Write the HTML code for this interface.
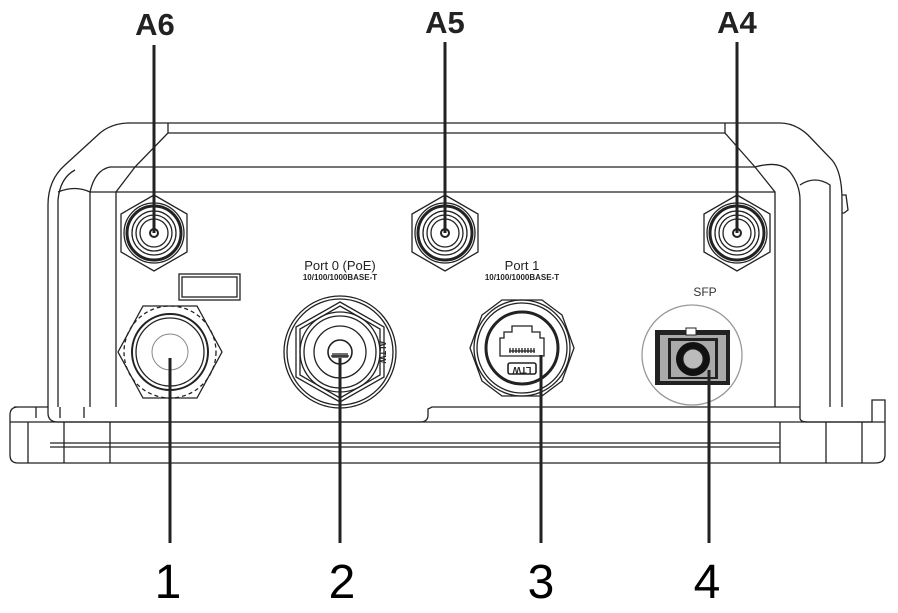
<!DOCTYPE html>
<html><head><meta charset="utf-8"><style>
html,body{margin:0;padding:0;background:#fff}
svg{display:block}
</style></head><body>
<svg width="898" height="613" viewBox="0 0 898 613" xmlns="http://www.w3.org/2000/svg" font-family="Liberation Sans, sans-serif">
<g fill="none" stroke="#222" stroke-width="1.3">
<!-- body outer -->
<path d="M48 407 L48 205 Q48 180 65 165 L100 133 Q112 123 130 123 L780 123 Q795 123 808 135 L832 160 Q842 172 842 200 L842 407"/>
<path d="M58 407 L58 200 Q60 178 75 170"/>
<path d="M90 407 L90 192 Q95 170 110 167 L135 167 L168 133 L168 123"/>
<path d="M116 407 L116 192 L135 167"/>
<path d="M58 192 Q75 185 90 192 L116 192"/>
<line x1="168" y1="133" x2="725" y2="133"/>
<line x1="135" y1="167" x2="755" y2="167"/>
<line x1="116" y1="192" x2="775" y2="192"/>
<path d="M725 123 L725 133 L755 167 L775 192 L775 407"/>
<path d="M755 167 Q780 160 790 172 Q800 185 800 200 L800 407"/>
<path d="M800 185 Q815 175 830 185 L830 407"/>
<path d="M842 195 L846 195 L848 210 L844 213 L842 213"/>
<!-- flange -->
<path d="M14 407 L48 407 L48 413 Q48 422 58 422 L420 422 Q428 422 428 415 L428 409 L432 407 L800 407 M800 407 L800 418 Q800 422 808 422 L872 422 L872 400 L885 400 L885 455 Q885 463 875 463 L18 463 Q10 463 10 455 L10 415 Q10 407 18 407"/>
<line x1="10" y1="422" x2="885" y2="422"/>
<line x1="50" y1="443" x2="780" y2="443"/>
<line x1="50" y1="447" x2="780" y2="447"/>
<line x1="28" y1="422" x2="28" y2="463"/>
<line x1="64" y1="422" x2="64" y2="463"/>
<line x1="110" y1="422" x2="110" y2="463"/>
<line x1="780" y1="422" x2="780" y2="463"/>
<line x1="826" y1="422" x2="826" y2="463"/>
<line x1="862" y1="422" x2="862" y2="463"/>
<path d="M36 407 L36 418 M60 407 L60 418 M84 407 L84 418"/>
</g>

<!-- antenna connectors -->
<g fill="none" stroke="#222" stroke-width="1.3">
<g id="ant" transform="translate(154,233)">
<polygon points="0,-38 33,-19 33,19 0,38 -33,19 -33,-19"/>
<circle r="30"/>
<circle r="27" stroke-width="3"/>
<circle r="22"/>
<circle r="18"/>
<circle r="14"/>
<circle r="4" stroke-width="2"/>
</g>
<g transform="translate(445,233)">
<polygon points="0,-38 33,-19 33,19 0,38 -33,19 -33,-19"/>
<circle r="30"/><circle r="27" stroke-width="3"/><circle r="22"/><circle r="18"/><circle r="14"/><circle r="4" stroke-width="2"/>
</g>
<g transform="translate(737,233)">
<polygon points="0,-38 33,-19 33,19 0,38 -33,19 -33,-19"/>
<circle r="30"/><circle r="27" stroke-width="3"/><circle r="22"/><circle r="18"/><circle r="14"/><circle r="4" stroke-width="2"/>
</g>

<!-- label rect -->
<rect x="179" y="274" width="61" height="26"/>
<rect x="182" y="277" width="55" height="20"/>

<!-- gland (1) -->
<g transform="translate(170,352)">
<polygon points="-52,0 -27,-46 27,-46 52,0 27,46 -27,46"/>
<circle r="46" stroke-dasharray="4 3"/>
<circle r="38" stroke-width="2"/>
<circle r="34"/>
<circle r="18" stroke="#888" stroke-width="1"/>
</g>

<!-- port 0 -->
<g transform="translate(340,352)">
<circle r="56"/>
<circle r="53"/>
<polygon points="0,-50 44,-25 44,25 0,50 -44,25 -44,-25"/>
<polygon points="0,-46 40,-23 40,23 0,46 -40,23 -40,-23"/>
<circle r="40"/>
<circle r="36"/>
<circle r="26"/>
<circle r="12" stroke-width="1.6"/>
<path d="M-9 4 L9 4 M-7 1 L-7 6 M-5 1 L-5 6 M-3 1 L-3 6 M-1 1 L-1 6 M1 1 L1 6 M3 1 L3 6 M5 1 L5 6 M7 1 L7 6"/>
</g>
<text x="380" y="352" font-size="8" font-weight="bold" fill="#222" stroke="none" transform="rotate(90 380 352)" text-anchor="middle">ALTW</text>

<!-- port 1 -->
<g transform="translate(522,348)">
<polygon points="-52,0 -40,-33 -20,-48 20,-48 40,-33 52,0 40,33 20,48 -20,48 -40,33"/>
<circle r="48"/>
<circle r="45"/>
<circle r="36" stroke-width="3"/>
<path d="M-22 -10 L-22 8 L22 8 L22 -10 L18 -10 L18 -16 L10 -16 L10 -22 L-10 -22 L-10 -16 L-18 -16 L-18 -10 Z"/>
<path d="M-13 3 L13 3 M-12 0 L-12 5 M-9 0 L-9 5 M-6 0 L-6 5 M-3 0 L-3 5 M0 0 L0 5 M3 0 L3 5 M6 0 L6 5 M9 0 L9 5 M12 0 L12 5"/>
<rect x="-14" y="15" width="28" height="11" rx="2" stroke-width="1.6"/>
</g>
<text x="522" y="373" font-size="9" font-weight="bold" fill="#222" stroke="none" text-anchor="middle" transform="rotate(180 522 370)">LTW</text>

<!-- SFP -->
<circle cx="692" cy="355" r="50" stroke="#999"/>
</g>
<g>
<rect x="655" y="330" width="75" height="55" fill="#222"/>
<rect x="660" y="335" width="66" height="46" fill="#aaa"/>
<rect x="686" y="328" width="10" height="7" fill="#fff" stroke="#222"/>
<rect x="668" y="338" width="50" height="41" fill="#222"/>
<rect x="671" y="341" width="44" height="36" fill="#aaa"/>
<circle cx="693" cy="359" r="17" fill="#111"/>
<circle cx="693" cy="359" r="10" fill="#bbb" stroke="#222"/>
</g>

<!-- text labels -->
<g fill="#222">
<text x="340" y="270" font-size="13" text-anchor="middle">Port 0 (PoE)</text>
<text x="340" y="280" font-size="8" font-weight="bold" text-anchor="middle">10/100/1000BASE-T</text>
<text x="522" y="270" font-size="13" text-anchor="middle">Port 1</text>
<text x="522" y="280" font-size="8" font-weight="bold" text-anchor="middle">10/100/1000BASE-T</text>
<text x="705" y="296" font-size="12" text-anchor="middle" fill="#333">SFP</text>
<text x="155" y="35" font-size="31" font-weight="bold" text-anchor="middle">A6</text>
<text x="445" y="33" font-size="31" font-weight="bold" text-anchor="middle">A5</text>
<text x="737" y="33" font-size="31" font-weight="bold" text-anchor="middle">A4</text>
<text x="168" y="598" font-size="48" text-anchor="middle" fill="#000">1</text>
<text x="342" y="598" font-size="48" text-anchor="middle" fill="#000">2</text>
<text x="541" y="598" font-size="48" text-anchor="middle" fill="#000">3</text>
<text x="707" y="598" font-size="48" text-anchor="middle" fill="#000">4</text>
</g>

<!-- leader lines -->
<g stroke="#222" stroke-width="3">
<line x1="154" y1="45" x2="154" y2="233"/>
<line x1="445" y1="42" x2="445" y2="233"/>
<line x1="737" y1="42" x2="737" y2="233"/>
<line x1="170" y1="358" x2="170" y2="543"/>
<line x1="340" y1="358" x2="340" y2="543"/>
<line x1="541" y1="355" x2="541" y2="543"/>
<line x1="709" y1="370" x2="709" y2="543"/>
</g>
</svg>
</body></html>
